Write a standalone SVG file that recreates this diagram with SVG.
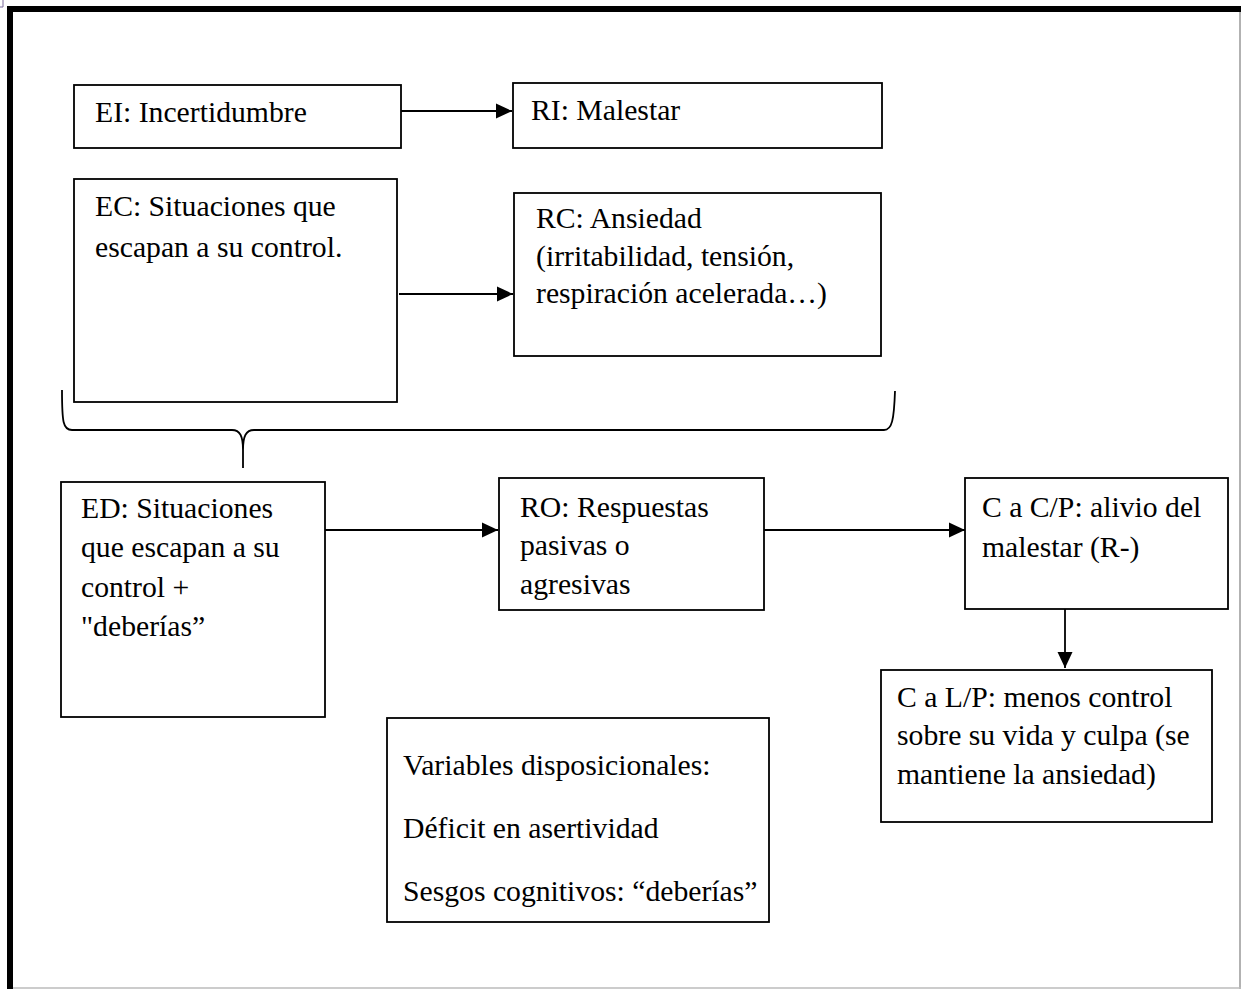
<svg xmlns="http://www.w3.org/2000/svg" width="1241" height="989" viewBox="0 0 1241 989">
<defs>
<style>
.box{fill:#fff;stroke:#000;stroke-width:1.8}
.t{font-family:"Liberation Serif","Times New Roman",serif;font-size:29.7px;fill:#000}
.c{stroke:#000;stroke-width:1.8;fill:none}
</style>
<marker id="ah2" markerWidth="16" markerHeight="16" refX="16" refY="8" orient="auto" markerUnits="userSpaceOnUse" viewBox="0 0 16 16">
<path d="M0,0.5 L16,8 L0,15.5 z" fill="#000"/>
</marker>
</defs>
<rect x="0" y="0" width="1241" height="989" fill="#fff"/>
<g id="frame">
<path d="M0,7 L3,7 L3,0" fill="none" stroke="#7a6a9a" stroke-width="1"/>
<rect x="7" y="6" width="1234" height="6" fill="#000"/>
<rect x="7" y="6" width="6" height="983" fill="#000"/>
<line x1="1240" y1="12" x2="1240" y2="989" stroke="#999" stroke-width="1.5"/>
<line x1="13" y1="988" x2="1241" y2="988" stroke="#bbb" stroke-width="1.5"/>
</g>
<g id="connectors">
<line class="c" x1="401" y1="111" x2="512" y2="111" marker-end="url(#ah2)"/>
<line class="c" x1="399" y1="294" x2="513" y2="294" marker-end="url(#ah2)"/>
<line class="c" x1="325" y1="530" x2="498" y2="530" marker-end="url(#ah2)"/>
<line class="c" x1="764" y1="530" x2="965" y2="530" marker-end="url(#ah2)"/>
<line class="c" x1="1065" y1="609" x2="1065" y2="668" marker-end="url(#ah2)"/>
<path class="c" d="M62,390 C62,422 63,430 72,430 L232,430 C240,430 243,436 243,450 L243,468 M243,450 C243,436 246,430 254,430 L884,430 C892,430 894,420 895,391"/>
</g>
<g id="ei">
<rect class="box" x="74" y="85" width="327" height="63"/>
<text class="t" x="95" y="122">EI: Incertidumbre</text>
</g>
<g id="ri">
<rect class="box" x="513" y="83" width="369" height="65"/>
<text class="t" x="531" y="120">RI: Malestar</text>
</g>
<g id="ec">
<rect class="box" x="74" y="179" width="323" height="223"/>
<text class="t" x="95" y="216">EC: Situaciones que</text>
<text class="t" x="95" y="257">escapan a su control.</text>
</g>
<g id="rc">
<rect class="box" x="514" y="193" width="367" height="163"/>
<text class="t" x="536" y="228">RC: Ansiedad</text>
<text class="t" x="536" y="266">(irritabilidad, tensión,</text>
<text class="t" x="536" y="303">respiración acelerada…)</text>
</g>
<g id="ed">
<rect class="box" x="61" y="482" width="264" height="235"/>
<text class="t" x="81" y="518">ED: Situaciones</text>
<text class="t" x="81" y="557">que escapan a su</text>
<text class="t" x="81" y="597">control +</text>
<text class="t" x="81" y="636">"deberías”</text>
</g>
<g id="ro">
<rect class="box" x="499" y="478" width="265" height="132"/>
<text class="t" x="520" y="517">RO: Respuestas</text>
<text class="t" x="520" y="555">pasivas o</text>
<text class="t" x="520" y="594">agresivas</text>
</g>
<g id="ccp">
<rect class="box" x="965" y="478" width="263" height="131"/>
<text class="t" x="982" y="517">C a C/P: alivio del</text>
<text class="t" x="982" y="557">malestar (R-)</text>
</g>
<g id="clp">
<rect class="box" x="881" y="670" width="331" height="152"/>
<text class="t" x="897" y="707">C a L/P: menos control</text>
<text class="t" x="897" y="745">sobre su vida y culpa (se</text>
<text class="t" x="897" y="784">mantiene la ansiedad)</text>
</g>
<g id="vd">
<rect class="box" x="387" y="718" width="382" height="204"/>
<text class="t" x="403" y="775">Variables disposicionales:</text>
<text class="t" x="403" y="838">Déficit en asertividad</text>
<text class="t" x="403" y="901">Sesgos cognitivos: “deberías”</text>
</g>
</svg>
